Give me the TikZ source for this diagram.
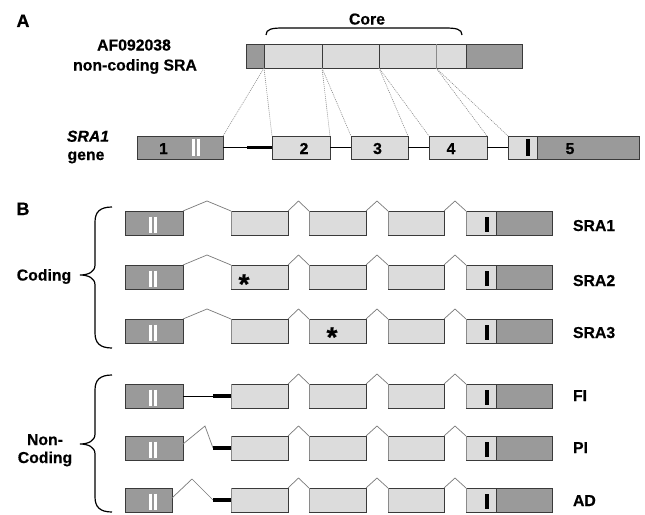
\documentclass[tikz,border=0pt]{standalone}
\usepackage{fontspec}
\setmainfont{Liberation Sans}[BoldFeatures={FakeBold=0.5},BoldItalicFeatures={FakeBold=0.5}]
\usetikzlibrary{calc}
\definecolor{darkg}{HTML}{9A9A9A}
\definecolor{lightg}{HTML}{DCDCDC}
\definecolor{bordc}{HTML}{3A3A3A}
\definecolor{splc}{HTML}{7A7A7A}
\definecolor{edgec}{HTML}{8A8A8A}
\begin{document}
\begin{tikzpicture}[x=1pt,y=-1pt,
  exd/.style={draw=bordc, fill=darkg, rectangle, inner sep=0pt, outer sep=0pt, line width=0.9pt, anchor=north west},
  exl/.style={exd, fill=lightg},
  rowA/.style={minimum height=23pt},
  rowB/.style={minimum height=24pt},
  lab/.style={font=\fontsize{15.8}{18}\selectfont\bfseries, inner sep=0pt, outer sep=0pt, anchor=base},
  labi/.style={lab, font=\fontsize{15.8}{18}\selectfont\bfseries\itshape},
  biglab/.style={font=\fontsize{18}{20}\selectfont\bfseries, inner sep=0pt, outer sep=0pt, anchor=base},
  astlab/.style={font=\fontsize{28}{30}\selectfont\bfseries, inner sep=0pt, outer sep=0pt, anchor=base},
  dotl/.style={draw=edgec, line width=0.6pt, dash pattern=on 1pt off 1pt},
  splice/.style={draw=splc, line width=0.7pt},
  intron/.style={draw=black, line width=0.9pt},
  utr/.style={draw=black, line width=3.2pt},
  ledge/.style={draw=edgec, line width=0.9pt},
  brc/.style={draw=black, line width=1.2pt},
  whbar/.style={draw=white, line width=3pt},
  blkbar/.style={draw=black, line width=3.2pt}
]
\fill[white] (0,0) rectangle (645,514);
\useasboundingbox (0,0) rectangle (645,514);

% ---------------- Part A ----------------
\node[biglab] (lA) at (23,27) {A};
\node[lab] (lcore) at (367,24.5) {Core};
\draw[brc] (266,35) .. controls (266,29) and (272,28) .. (283,28) -- (445,28) .. controls (456,28) and (462,29) .. (462,35);
\node[lab] (laf) at (134,50.5) {AF092038};
\node[lab] (lnc) at (135,70.5) {non-coding SRA};

% top transcript bar
\node[exd, minimum width=18pt, minimum height=24pt] (t0) at (246,44) {};
\node[exl, minimum width=58pt, minimum height=24pt] (t1) at (264,44) {};
\node[exl, minimum width=57pt, minimum height=24pt] (t2) at (322,44) {};
\node[exl, minimum width=57pt, minimum height=24pt] (t3) at (379,44) {};
\node[exl, minimum width=30pt, minimum height=24pt] (t4) at (436,44) {};
\node[exd, minimum width=56pt, minimum height=24pt] (t5) at (466,44) {};
\draw[ledge] (t4.north west) -- (t4.south west);

% gene
\node[labi] (lsra) at (88,141.7) {SRA1};
\node[lab] (lgene) at (86,160) {gene};
\node[exd, rowA, minimum width=86pt] (g1) at (137,136) {};
\node[exl, rowA, minimum width=58pt] (g2) at (272,136) {};
\node[exl, rowA, minimum width=57pt] (g3) at (351,136) {};
\node[exl, rowA, minimum width=58pt] (g4) at (429,136) {};
\node[exl, rowA, minimum width=29pt] (g5a) at (508,136) {};
\node[exd, rowA, minimum width=102pt] (g5b) at (537,136) {};

\coordinate (k0) at ($(g2.west)+(-25,0)$);
\draw[intron] (g1.east) -- (k0);
\draw[utr] (k0) -- (g2.west);
\draw[intron] (g2.east) -- (g3.west);
\draw[intron] (g3.east) -- (g4.west);
\draw[intron] (g4.east) -- (g5a.west);

\foreach \s/\p/\q in {t0/g1/g2, t1/g2/g3, t2/g3/g4, t3/g4/g5a}{
  \draw[dotl] (\s.south east) -- (\p.north east);
  \draw[dotl] (\s.south east) -- (\q.north west);
}

\draw[whbar] (193.3,138.5) -- (193.3,156);
\draw[whbar] (198.3,138.5) -- (198.3,156);
\draw[blkbar] (528,139) -- (528,156);

\node[lab] (d1) at (163.5,154) {1};
\node[lab] (d2) at (304,154) {2};
\node[lab] (d3) at (377.5,154) {3};
\node[lab] (d4) at (451,154) {4};
\node[lab] (d5) at (570,154) {5};

% ---------------- Part B ----------------
\node[biglab] (lB) at (23,215) {B};

\foreach \r/\y/\ww in {1/211/58,2/265/58,3/319/58,4/384/58,5/436/58,6/488/47}{
  \node[exd, rowB, minimum width=\ww pt] (r\r-e1) at (125,\y) {};
  \node[exl, rowB, minimum width=57pt] (r\r-e2) at (231,\y) {};
  \node[exl, rowB, minimum width=57pt] (r\r-e3) at (309,\y) {};
  \node[exl, rowB, minimum width=56pt] (r\r-e4) at (388,\y) {};
  \node[exl, rowB, minimum width=30pt] (r\r-e5a) at (466,\y) {};
  \node[exd, rowB, minimum width=56pt] (r\r-e5b) at (496,\y) {};
  \foreach \p in {e2,e3,e4,e5a}{
    \draw[ledge] (r\r-\p.north west) -- (r\r-\p.south west);
  }
  \foreach \p/\q in {e2/e3,e3/e4,e4/e5a}{
    \draw[splice] (r\r-\p.north east) -- ($(r\r-\p.north east)!.5!(r\r-\q.north west)+(0,-10)$) -- (r\r-\q.north west);
  }
  \draw[whbar] (150,{\y+5.5}) -- (150,{\y+22});
  \draw[whbar] (155,{\y+5.5}) -- (155,{\y+22});
  \draw[blkbar] (487,{\y+6}) -- (487,{\y+20.5});
}

% coding: full splice from exon 1 to exon 2
\foreach \r in {1,2,3}{
  \draw[splice] (r\r-e1.north east) -- ($(r\r-e1.north east)!.5!(r\r-e2.north west)+(0,-10)$) -- (r\r-e2.north west);
}

% FI
\coordinate (k4) at ($(r4-e2.west)+(-18,0)$);
\draw[intron] (r4-e1.east) -- (k4);
\draw[utr] (k4) -- (r4-e2.west);
% PI
\coordinate (s5) at ($(r5-e1.north east)+(0,8)$);
\coordinate (k5) at ($(r5-e2.west)+(-18,0)$);
\draw[splice] (s5) -- ($(r5-e1.north east)+(22,-10)$) -- (k5);
\draw[utr] (k5) -- (r5-e2.west);
% AD
\coordinate (s6) at ($(r6-e1.north east)+(0,10)$);
\coordinate (k6) at ($(r6-e2.west)+(-18,0)$);
\draw[splice] (s6) -- ($(r6-e1.north east)+(20,-9)$) -- (k6);
\draw[utr] (k6) -- (r6-e2.west);

% asterisks
\node[astlab] (ast2) at (244,293.7) {*};
\node[astlab] (ast3) at (332,346.7) {*};

% right labels
\node[lab, anchor=base west] (l1) at (573,231) {SRA1};
\node[lab, anchor=base west] (l2) at (573,286) {SRA2};
\node[lab, anchor=base west] (l3) at (573,338) {SRA3};
\node[lab, anchor=base west] (l4) at (573,401) {FI};
\node[lab, anchor=base west] (l5) at (573,453) {PI};
\node[lab, anchor=base west] (l6) at (573,506) {AD};

% braces
\draw[brc] (112,207) .. controls (100,207) and (95,212) .. (95,222) -- (95,265) .. controls (95,272) and (88,275) .. (80,275) .. controls (88,275) and (95,278) .. (95,285) -- (95,333) .. controls (95,343) and (100,348) .. (112,348);
\draw[brc] (112,375) .. controls (100,375) and (95,380) .. (95,390) -- (95,434) .. controls (95,441) and (88,444) .. (80,444) .. controls (88,444) and (95,447) .. (95,454) -- (95,497) .. controls (95,507) and (100,512) .. (112,512);
\node[lab] (lcod) at (44,280.5) {Coding};
\node[lab] (lnon) at (45,445) {Non-};
\node[lab] (lnc2) at (45,463) {Coding};
\end{tikzpicture}
\end{document}
